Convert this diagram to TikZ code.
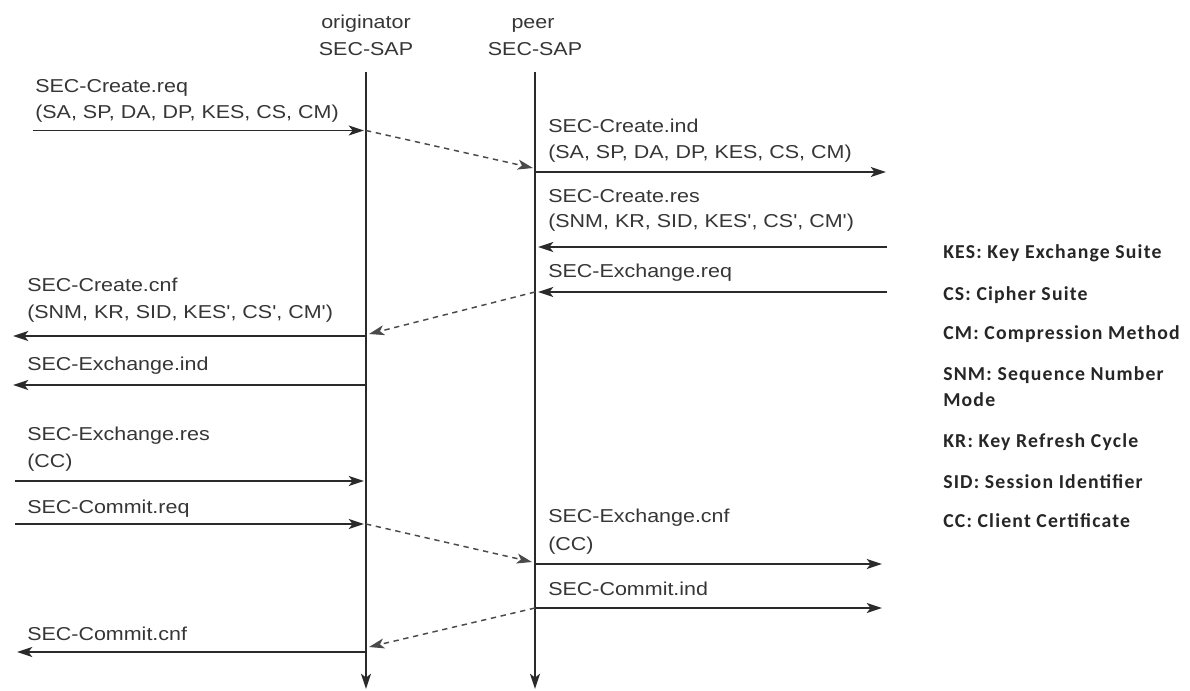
\documentclass[tikz,border=0pt]{standalone}
\usepackage{fontspec}
\newfontfamily\lbl{Liberation Sans}[FakeStretch=1.15]
\newfontfamily\leg{Carlito}[LetterSpace=6]
\usetikzlibrary{arrows.meta}
\definecolor{txt}{HTML}{363636}
\definecolor{ln}{HTML}{2A2A2A}
\definecolor{dl}{HTML}{4A4A4A}
\tikzset{
  lab/.style={anchor=base west, inner sep=0pt, text=txt, font=\lbl\fontsize{14pt}{16pt}\selectfont},
  head/.style={anchor=base, inner sep=0pt, text=txt, font=\lbl\fontsize{14pt}{16pt}\selectfont},
  legend/.style={anchor=base west, inner sep=0pt, text=black!85, font=\leg\bfseries\fontsize{14.8pt}{16pt}\selectfont},
  tip/.style={-{Stealth[length=11.5pt,width=7.5pt,inset=3pt]}},
  msg/.style={draw=ln, line width=1.2pt, tip},
  dsh/.style={draw=dl, line width=1.1pt, dash pattern=on 4pt off 3.5pt, tip},
  life/.style={draw=ln, line width=1.2pt, tip}
}
\begin{document}
\begin{tikzpicture}[x=0.75pt,y=-0.75pt]
\useasboundingbox[fill=white] (0,0) rectangle (1190,690);

% headers
\node[head] (oh1) at (366,28) {originator};
\node[head] (oh2) at (366,55) {SEC-SAP};
\node[head] (ph1) at (533,28) {peer};
\node[head] (ph2) at (535,55) {SEC-SAP};

% lifelines
\coordinate (o0) at (366,72);
\coordinate (o1) at (366,689);
\coordinate (p0) at (535,72);
\coordinate (p1) at (535,689);
\draw[life] (o0) -- (o1);
\draw[life] (p0) -- (p1);

% row 1: SEC-Create.req
\node[lab] (t1a) at (35,92) {SEC-Create.req};
\node[lab] (t1b) at (35,118) {(SA, SP, DA, DP, KES, CS, CM)};
\coordinate (a1s) at (33,130.5);
\coordinate (a1e) at (364,130.5);
\draw[msg] (a1s) -- (a1e);

% dashed 1
\coordinate (d1s) at (366,130.5);
\coordinate (d1e) at (533,168);
\draw[dsh] (d1s) -- (d1e);

% row 2: SEC-Create.ind
\node[lab] (t2a) at (548,132) {SEC-Create.ind};
\node[lab] (t2b) at (548,158) {(SA, SP, DA, DP, KES, CS, CM)};
\coordinate (a2s) at (535,172);
\coordinate (a2e) at (886,172);
\draw[msg] (a2s) -- (a2e);

% row 3: SEC-Create.res
\node[lab] (t3a) at (548,202) {SEC-Create.res};
\node[lab] (t3b) at (548,227) {(SNM, KR, SID, KES', CS', CM')};
\coordinate (a3s) at (887,247);
\coordinate (a3e) at (538,247);
\draw[msg] (a3s) -- (a3e);

% row 4: SEC-Exchange.req
\node[lab] (t4a) at (548,277) {SEC-Exchange.req};
\coordinate (a4s) at (887,292);
\coordinate (a4e) at (538,292);
\draw[msg] (a4s) -- (a4e);

% dashed 2
\coordinate (d2s) at (535,292);
\coordinate (d2e) at (369,334);
\draw[dsh] (d2s) -- (d2e);

% row 5: SEC-Create.cnf
\node[lab] (t5a) at (27,291) {SEC-Create.cnf};
\node[lab] (t5b) at (27,318) {(SNM, KR, SID, KES', CS', CM')};
\coordinate (a5s) at (366,336);
\coordinate (a5e) at (13,336);
\draw[msg] (a5s) -- (a5e);

% row 6: SEC-Exchange.ind
\node[lab] (t6a) at (27,370) {SEC-Exchange.ind};
\coordinate (a6s) at (366,385);
\coordinate (a6e) at (13,385);
\draw[msg] (a6s) -- (a6e);

% row 7: SEC-Exchange.res
\node[lab] (t7a) at (27,440) {SEC-Exchange.res};
\node[lab] (t7b) at (27,467) {(CC)};
\coordinate (a7s) at (15,481);
\coordinate (a7e) at (364,481);
\draw[msg] (a7s) -- (a7e);

% row 8: SEC-Commit.req
\node[lab] (t8a) at (27,513) {SEC-Commit.req};
\coordinate (a8s) at (15,524);
\coordinate (a8e) at (364,524);
\draw[msg] (a8s) -- (a8e);

% dashed 3
\coordinate (d3s) at (366,524);
\coordinate (d3e) at (532,562);
\draw[dsh] (d3s) -- (d3e);

% row 9: SEC-Exchange.cnf
\node[lab] (t9a) at (548,522) {SEC-Exchange.cnf};
\node[lab] (t9b) at (548,550) {(CC)};
\coordinate (a9s) at (535,564);
\coordinate (a9e) at (882,564);
\draw[msg] (a9s) -- (a9e);

% row 10: SEC-Commit.ind
\node[lab] (t10a) at (548,595) {SEC-Commit.ind};
\coordinate (a10s) at (535,608);
\coordinate (a10e) at (882,608);
\draw[msg] (a10s) -- (a10e);

% dashed 4
\coordinate (d4s) at (535,608);
\coordinate (d4e) at (369,647);
\draw[dsh] (d4s) -- (d4e);

% row 11: SEC-Commit.cnf
\node[lab] (t11a) at (27,640) {SEC-Commit.cnf};
\coordinate (a11s) at (366,652);
\coordinate (a11e) at (17,652);
\draw[msg] (a11s) -- (a11e);

% legend
\node[legend] (g1) at (943,258) {KES: Key Exchange Suite};
\node[legend] (g2) at (943,300) {CS: Cipher Suite};
\node[legend] (g3) at (943,339) {CM: Compression Method};
\node[legend] (g4) at (943,380) {SNM: Sequence Number};
\node[legend] (g5) at (943,406) {Mode};
\node[legend] (g6) at (943,447) {KR: Key Refresh Cycle};
\node[legend] (g7) at (943,488) {SID: Session Identifier};
\node[legend] (g8) at (943,527) {CC: Client Certificate};
\end{tikzpicture}
\end{document}
